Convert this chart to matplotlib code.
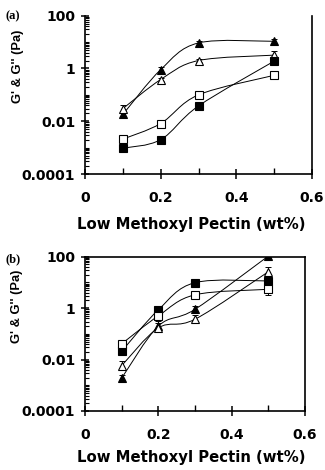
import numpy as np
import matplotlib
matplotlib.use("Agg")
import matplotlib.pyplot as plt
from matplotlib.path import Path
from matplotlib.patches import PathPatch
from matplotlib.ticker import FixedLocator, LogLocator, NullFormatter, FixedFormatter

x = [0.1, 0.2, 0.3, 0.5]

# Panel (a)
a_filled_tri = [0.018, 0.9, 9.3, 10.7]
a_open_tri = [0.03, 0.38, 2.0, 3.2]
a_filled_sq = [0.00095, 0.002, 0.038, 1.9]
a_open_sq = [0.0021, 0.0082, 0.10, 0.55]
a_err = {"ft": [1.15, 1.3, 1.2, 1.25], "ot": [1.4, 1.1, 1.15, 1.4],
         "fs": [1.2, 1.1, 1.1, 1.2], "os": [1.1, 1.1, 1.1, 1.1]}

# Panel (b)
b_filled_sq = [0.021, 0.86, 9.8, 11.4]
b_open_sq = [0.041, 0.5, 3.3, 5.4]
b_filled_tri = [0.0019, 0.2, 0.9, 106]
b_open_tri = [0.0058, 0.17, 0.37, 26]
b_err = {"fs": [1.4, 1.2, 1.25, 1.8], "os": [1.3, 1.3, 1.4, 1.6],
         "ft": [1.3, 1.6, 1.4, 1.1], "ot": [1.5, 1.5, 1.4, 1.5]}

xticks = [0, 0.2, 0.4, 0.6]
xticklabels = ["0", "0.2", "0.4", "0.6"]
yticks = [1e-4, 1e-2, 1, 1e2]
yticklabels = ["0.0001", "0.01", "1", "100"]
xlabel = "Low Methoxyl Pectin (wt%)"
ylabel = "G' & G'' (Pa)"

plt.rcParams['font.family'] = ['DejaVu Sans']


def smooth_path(xs, ys):
    lx = np.array(xs, float)
    ly = np.log10(np.array(ys, float))
    n = len(lx)
    P = np.column_stack([lx, ly])
    verts = [P[0]]
    codes = [Path.MOVETO]
    for i in range(n - 1):
        p0 = P[i - 1] if i > 0 else P[i]
        p1 = P[i]
        p2 = P[i + 1]
        p3 = P[i + 2] if i + 2 < n else P[i + 1]
        c1 = p1 + (p2 - p0) / 6.0
        c2 = p2 - (p3 - p1) / 6.0
        verts += [c1, c2, p2]
        codes += [Path.CURVE4] * 3
    verts = np.array(verts)
    verts[:, 1] = 10 ** verts[:, 1]
    return Path(verts, codes)


def draw_series(ax, ys, errf, marker, filled):
    ax.add_patch(PathPatch(smooth_path(x, ys), fill=False, lw=0.7,
                           edgecolor='black', transform=ax.transData, zorder=2))
    ys_a = np.array(ys)
    f = np.array(errf)
    lower = ys_a - ys_a / f
    upper = ys_a * f - ys_a
    ax.errorbar(x, ys, yerr=[lower, upper], fmt='none', ecolor='black',
                elinewidth=0.7, capsize=2.2, capthick=0.7, zorder=3)
    ax.plot(x, ys, linestyle='none', marker=marker, markersize=5.5,
            markerfacecolor='black' if filled else 'white',
            markeredgecolor='black', markeredgewidth=0.8, zorder=4)


def style_axis(ax, top_spine, ylab_xy, xlab_xy):
    ax.set_yscale('log')
    ax.set_xlim(0, 0.6)
    ax.set_ylim(1e-4, 1e2)
    ax.spines['top'].set_visible(top_spine)
    for s in ax.spines.values():
        s.set_linewidth(1.2)
    ax.xaxis.set_major_locator(FixedLocator(xticks))
    ax.xaxis.set_major_formatter(FixedFormatter(xticklabels))
    ax.xaxis.set_minor_locator(FixedLocator([0.1, 0.3, 0.5]))
    ax.yaxis.set_major_locator(FixedLocator(yticks))
    ax.yaxis.set_major_formatter(FixedFormatter(yticklabels))
    ax.yaxis.set_minor_locator(LogLocator(base=10, subs=np.arange(1, 10), numticks=20))
    ax.yaxis.set_minor_formatter(NullFormatter())
    ax.tick_params(axis='x', which='major', direction='inout', length=7, width=1.1,
                   labelsize=10, pad=9)
    ax.tick_params(axis='x', which='minor', direction='in', length=4, width=1.0)
    ax.tick_params(axis='y', which='major', direction='inout', length=6, width=1.1,
                   labelsize=10, pad=4)
    ax.tick_params(axis='y', which='minor', direction='in', length=3, width=0.8)
    ax.tick_params(top=False, right=False, which='both')
    for lab in ax.get_xticklabels() + ax.get_yticklabels():
        lab.set_fontweight('bold')
    ax.set_xlabel(xlabel, fontsize=10.7, fontweight='bold')
    ax.set_ylabel(ylabel, fontsize=9.3, fontweight='bold',
                  family=['Liberation Sans', 'DejaVu Sans'])
    ax.yaxis.set_label_coords(*ylab_xy)
    ax.xaxis.set_label_coords(*xlab_xy)


fig = plt.figure(figsize=(3.25, 4.7), dpi=100)

ax1 = fig.add_axes([85 / 325, 1 - 174 / 470, 227 / 325, 158.3 / 470])
style_axis(ax1, False, (-0.27, 0.68), (0.469, -0.27))
draw_series(ax1, a_filled_tri, a_err["ft"], '^', True)
draw_series(ax1, a_open_tri, a_err["ot"], '^', False)
draw_series(ax1, a_filled_sq, a_err["fs"], 's', True)
draw_series(ax1, a_open_sq, a_err["os"], 's', False)
fig.text(5 / 325, 1 - 16 / 470, "(a)", fontsize=9, fontweight='bold',
         family=['Liberation Serif'], va='center', ha='left')

ax2 = fig.add_axes([85 / 325, 1 - 411 / 470, 220 / 325, 154.3 / 470])
style_axis(ax2, True, (-0.28, 0.677), (0.484, -0.25))
draw_series(ax2, b_filled_sq, b_err["fs"], 's', True)
draw_series(ax2, b_open_sq, b_err["os"], 's', False)
draw_series(ax2, b_filled_tri, b_err["ft"], '^', True)
draw_series(ax2, b_open_tri, b_err["ot"], '^', False)
fig.text(5 / 325, 1 - 259 / 470, "(b)", fontsize=9, fontweight='bold',
         family=['Liberation Serif'], va='center', ha='left')

fig.savefig("out.png", dpi=100)
